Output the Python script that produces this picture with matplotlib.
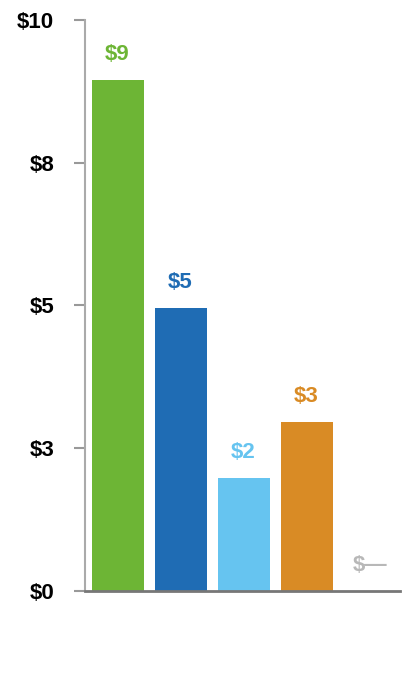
import matplotlib
matplotlib.use('Agg')
from matplotlib import pyplot as plt
from matplotlib import font_manager

# pick a narrow bold font if there is one
names = {f.name for f in font_manager.fontManager.ttflist}
fam = 'Liberation Sans Narrow' if 'Liberation Sans Narrow' in names else 'Liberation Sans'
plt.rcParams['font.family'] = [fam, 'DejaVu Sans']

categories = ['A', 'B', 'C', 'D', 'E']
values = [8.95, 4.96, 1.98, 2.96, 0.0]
value_labels = ['$9', '$5', '$2', '$3', '$—']
colors = ['#6db535', '#1f6cb4', '#66c4f0', '#d98b25', '#b8b8b8']
y_ticks = [0, 2.5, 5, 7.5, 10]
y_tick_labels = ['$0', '$3', '$5', '$8', '$10']

fig = plt.figure(figsize=(4.2, 6.9), dpi=100)
ax = fig.add_axes([0.202, 0.1435, 0.750, 0.8275])

x = range(len(categories))
bars = ax.bar(x, values, width=0.825, color=colors)

for xi, v, lab, c in zip(x, values, value_labels, colors):
    ax.annotate(lab, (xi, v), xytext=(0, 11), textcoords='offset points',
                ha='center', va='bottom', color=c, fontsize=16, fontweight='bold')

ax.set_xlim(-0.52, 4.48)
ax.set_ylim(0, 10)
ax.set_yticks(y_ticks)
ax.set_yticklabels(y_tick_labels, fontsize=16, fontweight='bold')
ax.set_xticks([])
ax.tick_params(axis='y', length=8, width=1.5, color='#999999', pad=14)

ax.spines['top'].set_visible(False)
ax.spines['right'].set_visible(False)
ax.spines['left'].set_color('#aaaaaa')
ax.spines['left'].set_linewidth(1.5)
ax.spines['bottom'].set_color('#777777')
ax.spines['bottom'].set_linewidth(2)

plt.savefig('out.png')
